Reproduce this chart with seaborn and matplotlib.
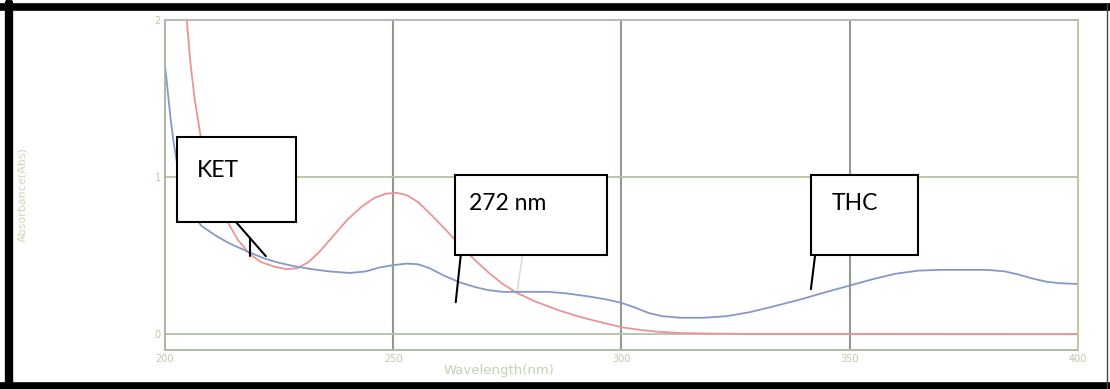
import numpy as np
import pandas as pd
import matplotlib
matplotlib.use("Agg")
import matplotlib.pyplot as plt
import seaborn as sns
from matplotlib.patches import Rectangle
from matplotlib.lines import Line2D

# spectra (wavelength nm, absorbance)
ket_nm = [203.5, 204.8, 205.5, 206.5, 207.7, 209.0, 210.5, 212.0, 214.0, 216.0,
          218.6, 221.0, 224.0, 226.5, 229.0, 231.5, 234.0, 237.0, 240.0, 243.0,
          246.0, 248.5, 250.8, 253.0, 255.5, 258.0, 261.0, 264.6, 268.0, 271.0,
          274.0, 277.0, 281.0, 286.5, 291.0, 295.0, 300.0, 304.0, 308.0, 313.0,
          320.0, 330.0, 360.0, 400.0]
ket_abs = [2.60, 2.00, 1.75, 1.50, 1.28, 1.10, 0.95, 0.83, 0.70, 0.60,
           0.51, 0.46, 0.43, 0.415, 0.42, 0.46, 0.53, 0.63, 0.73, 0.81,
           0.87, 0.895, 0.90, 0.885, 0.84, 0.77, 0.68, 0.57, 0.47, 0.39,
           0.32, 0.265, 0.21, 0.15, 0.11, 0.08, 0.045, 0.028, 0.016, 0.008,
           0.004, 0.002, 0.001, 0.0]

thc_nm = [200.0, 200.6, 201.2, 201.9, 202.7, 203.7, 205.0, 206.5, 208.0, 211.0,
          214.0, 218.6, 222.0, 225.0, 228.0, 232.0, 236.0, 240.5, 244.0, 247.0,
          250.0, 253.0, 255.5, 258.0, 261.0, 264.6, 268.0, 271.0, 274.0, 280.0,
          284.0, 288.0, 293.0, 297.0, 300.0, 303.0, 306.0, 309.0, 313.0, 318.0,
          323.0, 328.0, 333.0, 339.0, 345.0, 350.0, 355.0, 360.0, 365.0, 370.0,
          375.0, 380.0, 384.0, 387.0, 390.0, 393.0, 396.0, 400.0]
thc_abs = [1.72, 1.55, 1.38, 1.22, 1.08, 0.96, 0.84, 0.75, 0.69, 0.63,
           0.58, 0.52, 0.48, 0.455, 0.435, 0.415, 0.40, 0.39, 0.40, 0.425,
           0.44, 0.45, 0.445, 0.42, 0.375, 0.33, 0.30, 0.28, 0.27, 0.27,
           0.27, 0.26, 0.24, 0.22, 0.20, 0.17, 0.135, 0.115, 0.105, 0.105,
           0.115, 0.14, 0.175, 0.22, 0.27, 0.31, 0.35, 0.385, 0.405, 0.41,
           0.41, 0.41, 0.40, 0.38, 0.355, 0.335, 0.325, 0.32]

x_ticks = [200, 250, 300, 350, 400]
y_ticks = [0, 1, 2]

df = pd.concat([
    pd.DataFrame({"nm": ket_nm, "abs": ket_abs, "sample": "KET"}),
    pd.DataFrame({"nm": thc_nm, "abs": thc_abs, "sample": "THC"}),
])

sns.set_style("white")
fig = plt.figure(figsize=(11.1, 3.89), dpi=100)
ax = fig.add_axes([0.1486, 0.1003, 0.8225, 0.8483])

sns.lineplot(data=df, x="nm", y="abs", hue="sample",
             palette={"KET": "#ec9393", "THC": "#8499c8"},
             linewidth=1.3, legend=False, ax=ax, sort=False)

ax.set_xlim(200, 400)
ax.set_ylim(-0.10, 2.0)
ax.set_xticks(x_ticks)
ax.set_yticks(y_ticks)
ax.set_xticklabels([str(t) for t in x_ticks], color="#bccaa8", fontsize=7)
ax.set_yticklabels([str(t) for t in y_ticks], color="#bccaa8", fontsize=7)
ax.tick_params(length=0, pad=3)
ax.set_xlabel("")
ax.set_ylabel("")

for x in [250, 300, 350]:
    ax.axvline(x, color="#8f9c88", lw=1.5, zorder=0)
for y in [0, 1]:
    ax.axhline(y, color="#b3c2a6", lw=1.3, zorder=0)
for side, c in {"top": "#b4bab2", "left": "#a9b8a0", "bottom": "#b0bca6", "right": "#b9cc9c"}.items():
    ax.spines[side].set_color(c)
    ax.spines[side].set_linewidth(1.4)

fig.text(0.020, 0.50, "Absorbance(Abs)", rotation=90, color="#c8dcb2",
         fontsize=8, ha="center", va="center")
fig.text(0.450, 0.047, "Wavelength(nm)", color="#c3d2b0", fontsize=9.5,
         ha="center", va="center")

# callout boxes
boxes = [
    ("KET", (202.6, 0.713), 26.1, 0.542, (207.0, 1.045)),
    ("272 nm", (263.5, 0.503), 33.3, 0.510, (266.6, 0.83)),
    ("THC", (341.5, 0.503), 23.5, 0.510, (346.1, 0.83)),
]
for label, (bx, by), w, h, (tx, ty) in boxes:
    ax.add_patch(Rectangle((bx, by), w, h, facecolor="white", edgecolor="black",
                           lw=1.5, zorder=5, clip_on=False))
    ax.text(tx, ty, label, fontsize=16.5, family=["Lato", "DejaVu Sans"],
            color="black", va="center", ha="left", zorder=6)

pointers = [
    ([215.6, 222.1], [0.713, 0.497]),
    ([218.6, 218.6], [0.61, 0.50]),
    ([264.8, 263.7], [0.503, 0.204]),
    ([342.4, 341.5], [0.497, 0.287]),
]
for xs, ys in pointers:
    ax.plot(xs, ys, color="black", lw=1.5, zorder=6)
ax.plot([278.3, 277.2], [0.50, 0.28], color="#dcdcdc", lw=1.2, zorder=1)

# outer black frame
frame = [
    ([0.0081, 0.0081], [0.0, 0.992], 6, "black"),
    ([0.0, 1.0], [0.983, 0.983], 5.5, "black"),
    ([0.0, 1.0], [0.008, 0.008], 5.5, "black"),
    ([0.9975, 0.9975], [0.0, 0.99], 1.0, "#444444"),
]
for xs, ys, lw, c in frame:
    fig.add_artist(Line2D(xs, ys, color=c, lw=lw, transform=fig.transFigure))

fig.savefig("out.png", dpi=100)
